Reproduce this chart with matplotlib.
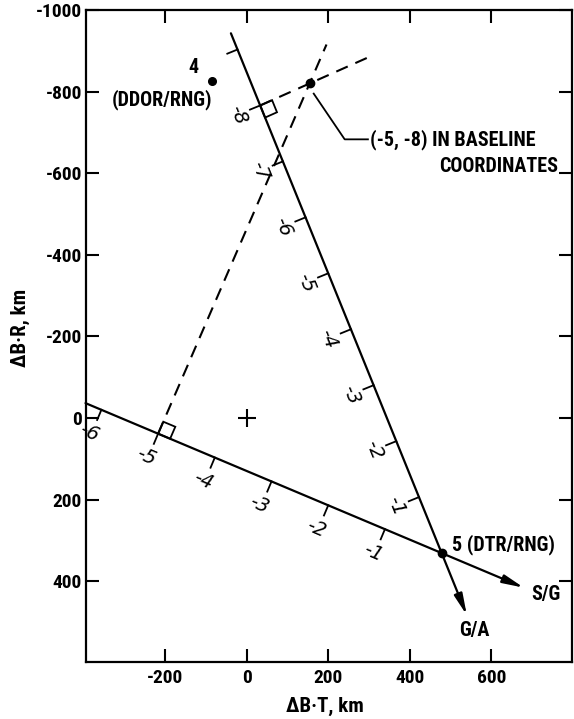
import numpy as np
import matplotlib
matplotlib.use("Agg")
import matplotlib.pyplot as plt
from matplotlib.patches import Polygon

# ---------------- data ----------------
p5 = (478.0, 331.0)                 # point 5 (DTR/RNG), origin of both baseline scales
p4 = (-86.0, -827.0)                # point 4 (DDOR/RNG)
fix_xy = (154.0, -820.0)            # fix at (-5, -8) in baseline coordinates
origin_mark = (0.0, 0.0)            # "+" at origin

sg_dir_deg = -157.2                 # direction of negative S/G scale (data coords)
ga_dir_deg = -112.1                 # direction of negative G/A scale
sg_unit_km = 151.0                  # km per S/G baseline unit
ga_unit_km = 148.0                  # km per G/A baseline unit

sg_extent = (-6.28, 1.45)           # S/G line extent in baseline units (start, arrow tip)
ga_extent = (-9.29, 1.11)           # G/A line extent in baseline units

sg_ticks = [-1, -2, -3, -4, -5, -6]
sg_tick_labels = ["-1", "-2", "-3", "-4", "-5", "-6"]
ga_ticks = [-1, -2, -3, -4, -5, -6, -7, -8, -9]
ga_tick_labels = ["-1", "-2", "-3", "-4", "-5", "-6", "-7", "-8", ""]

fix_point = (-5, -8)                # baseline coordinates of the fix
dash_ext_km = (104.0, 167.0)        # dashed lines run past the fix by this much

x_ticks = [-200, 0, 200, 400, 600]
y_ticks = [-1000, -800, -600, -400, -200, 0, 200, 400]

# ---------------- geometry helpers ----------------
P5 = np.array(p5)
Q = np.array(fix_xy)
u_sg = np.array([np.cos(np.radians(sg_dir_deg)), np.sin(np.radians(sg_dir_deg))])
u_ga = np.array([np.cos(np.radians(ga_dir_deg)), np.sin(np.radians(ga_dir_deg))])
n_sg = np.array([-u_sg[1], u_sg[0]])
if n_sg[1] > 0:
    n_sg = -n_sg
n_ga = np.array([-u_ga[1], u_ga[0]])
if n_ga[0] < 0:
    n_ga = -n_ga

def on_sg(v):
    return P5 + (-v) * sg_unit_km * u_sg

def on_ga(v):
    return P5 + (-v) * ga_unit_km * u_ga

font_main = ["Roboto Condensed", "Fira Sans Condensed", "PT Sans Narrow",
             "Liberation Sans Narrow", "Asap Condensed", "Barlow Semi Condensed",
             "DejaVu Sans"]
plt.rcParams["font.family"] = font_main

fig = plt.figure(figsize=(5.74, 7.19), dpi=100)
ax = fig.add_axes([86 / 574, 57 / 719, (572 - 86) / 574, (662 - 10) / 719])

ax.set_xlim(-395, 798)
ax.set_ylim(598, -1000)

lw = 1.6
for onf, ext in ((on_sg, sg_extent), (on_ga, ga_extent)):
    a = onf(ext[0]); b = onf(ext[1])
    ax.annotate("", xy=b, xytext=a,
                arrowprops=dict(arrowstyle="-|>,head_length=0.9,head_width=0.18",
                                lw=lw, color="black", shrinkA=0, shrinkB=0,
                                mutation_scale=14))

tick_len = 27.0
hand = dict(fontsize=14, family=["DejaVu Sans"], style="italic", color="black")
for v, lab in zip(sg_ticks, sg_tick_labels):
    p = on_sg(v)
    q = p - n_sg * tick_len
    ax.plot([p[0], q[0]], [p[1], q[1]], color="black", lw=1.3)
    c = p - n_sg * 64 + u_sg * 5
    ax.text(c[0], c[1], lab, rotation=-23, ha="center", va="center", **hand)

for v, lab in zip(ga_ticks, ga_tick_labels):
    p = on_ga(v)
    q = p - n_ga * tick_len
    ax.plot([p[0], q[0]], [p[1], q[1]], color="black", lw=1.3)
    if lab:
        c = p - n_ga * 60
        ax.text(c[0], c[1], lab, rotation=-68, ha="center", va="center", **hand)

# dashed lines from the baseline feet through the fix
fs = on_sg(fix_point[0])
fg = on_ga(fix_point[1])
dash = (0, (6, 4))
squares = []
for foot, ext, along in ((fs, dash_ext_km[0], -u_sg), (fg, dash_ext_km[1], -u_ga)):
    d = Q - foot
    d = d / np.linalg.norm(d)
    end = Q + d * ext
    ax.plot([foot[0], end[0]], [foot[1], end[1]], color="black", lw=1.5, ls=dash)
    squares.append((foot, along, d))

sq = 32.0
for foot, along, perp in squares:
    pts = [foot, foot + along * sq, foot + along * sq + perp * sq, foot + perp * sq]
    ax.add_patch(Polygon(pts, closed=True, fill=False, ec="black", lw=1.3))

ax.plot(*Q, "o", color="black", ms=6)
ax.plot(*P5, "o", color="black", ms=6)
ax.plot(*p4, "o", color="black", ms=5.5)
ax.plot(*origin_mark, "+", color="black", ms=13, mew=1.5)

bold = dict(fontweight="bold", fontsize=14.5, color="black")
ax.text(-118, -837, "4", ha="right", va="bottom", **bold)
ax.text(-209, -780, "(DDOR/RNG)", ha="center", va="center", **bold)
ax.text(503, 310, "5 (DTR/RNG)", ha="left", va="center", **bold)
ax.text(734, 432, "S/G", ha="center", va="center", **bold)
ax.text(557, 521, "G/A", ha="center", va="center", **bold)
lead_start = Q + np.array([10, 25])
ax.plot([lead_start[0], 240, 297], [lead_start[1], -683, -683], color="black", lw=1.3)
ax.text(302, -683, "(-5, -8) IN BASELINE", ha="left", va="center", **bold)
ax.text(763, -617, "COORDINATES", ha="right", va="center", **bold)

ax.set_xticks(x_ticks)
ax.set_yticks(y_ticks)
ax.set_xticklabels([str(v) for v in x_ticks])
ax.set_yticklabels([str(v) for v in y_ticks])
ax.tick_params(direction="in", length=9.5, width=1.5, top=True, right=True,
               labelsize=14, pad=3)
ax.tick_params(axis="x", pad=5)
for lab in ax.get_xticklabels() + ax.get_yticklabels():
    lab.set_fontweight("bold")
for sp in ax.spines.values():
    sp.set_linewidth(1.6)

ax.set_xlabel("ΔB·T, km", fontsize=15, fontweight="bold")
ax.set_ylabel("ΔB·R, km", fontsize=15, fontweight="bold")
ax.xaxis.set_label_coords(0.492, -0.053)
ax.yaxis.set_label_coords(-0.115, 0.513)

fig.savefig("out.png", dpi=100)
